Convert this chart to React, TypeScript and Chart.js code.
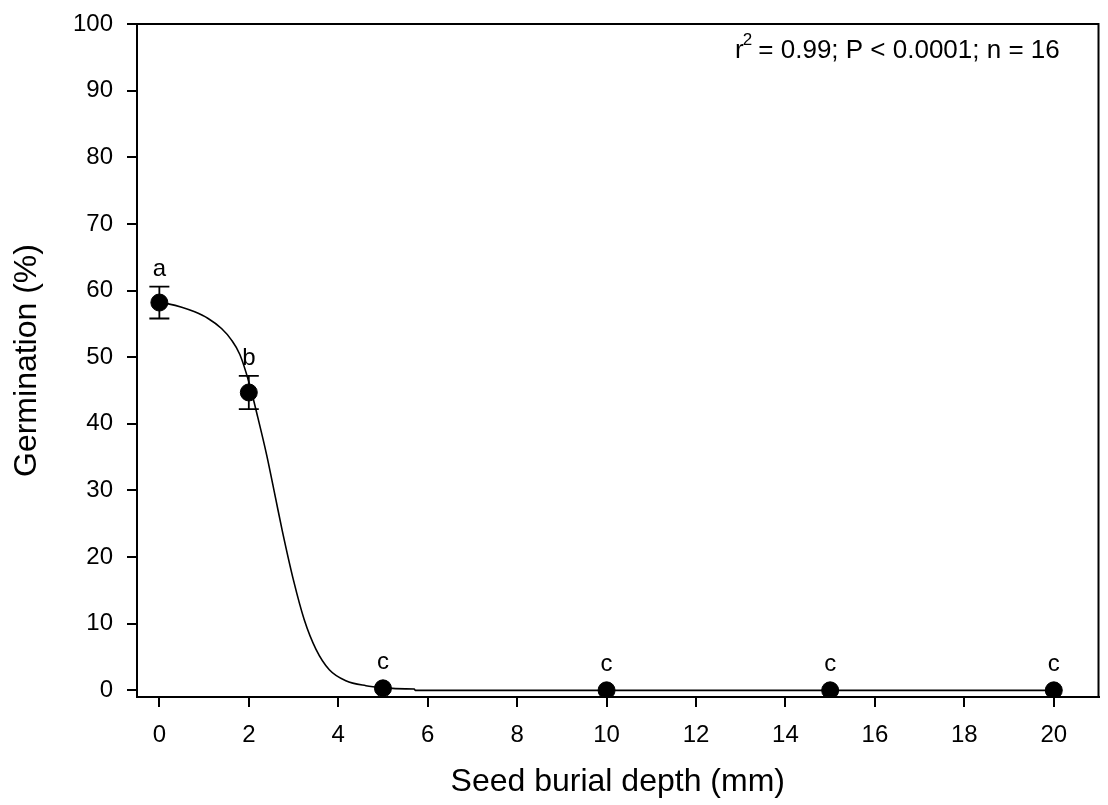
import React, { useEffect, useRef } from "react";
import { Chart, registerables } from "chart.js";

Chart.register(...registerables);

// ---- Data ----
const depths = [0, 2, 5, 10, 15, 20];
const germination = [58.2, 44.7, 0.3, 0, 0, 0];
const stdErr = [2.4, 2.5, 0, 0, 0, 0];
const groupLetters = ["a", "b", "c", "c", "c", "c"];

// fitted curve
const curveX = [0, 0.2, 0.5, 0.79, 1.09, 1.39, 1.61, 1.8, 2.0, 2.2, 2.4, 2.6, 2.75, 3.0, 3.24, 3.5, 3.8, 4.17, 4.62, 5.0, 5.5, 5.7, 5.72, 20];
const curveY = [58.2, 58.0, 57.5, 56.8, 55.8, 54.3, 52.6, 50.4, 46.3, 41.0, 35.3, 28.8, 23.9, 16.5, 10.6, 6.2, 3.1, 1.45, 0.7, 0.4, 0.22, 0.2, 0.0, 0.0];

const xTickValues = [0, 2, 4, 6, 8, 10, 12, 14, 16, 18, 20];
const yTickValues = [0, 10, 20, 30, 40, 50, 60, 70, 80, 90, 100];

const statsBase = "r";
const statsSup = "2";
const statsRest = " = 0.99; P < 0.0001; n = 16";

const xTitle = "Seed burial depth (mm)";
const yTitle = "Germination (%)";

const FONT = "'Liberation Sans', Arial, Helvetica, sans-serif";

const annotationsPlugin = {
  id: "annotations",
  beforeDatasetsDraw(chart: any) {
    const { ctx, scales } = chart;
    const xs = scales.x;
    const ys = scales.y;
    ctx.save();
    ctx.strokeStyle = "#000";
    ctx.lineWidth = 1.8;
    depths.forEach((d, i) => {
      const se = stdErr[i];
      if (!se) return;
      const px = xs.getPixelForValue(d);
      const top = ys.getPixelForValue(germination[i] + se);
      const bot = ys.getPixelForValue(germination[i] - se);
      ctx.beginPath();
      ctx.moveTo(px, top);
      ctx.lineTo(px, bot);
      ctx.moveTo(px - 10, top);
      ctx.lineTo(px + 10, top);
      ctx.moveTo(px - 10, bot);
      ctx.lineTo(px + 10, bot);
      ctx.stroke();
    });
    ctx.restore();
  },
  afterDatasetsDraw(chart: any) {
    const { ctx, scales, chartArea } = chart;
    const xs = scales.x;
    const ys = scales.y;
    ctx.save();
    // frame
    ctx.strokeStyle = "#000";
    ctx.lineWidth = 2;
    ctx.strokeRect(chartArea.left, chartArea.top, chartArea.right - chartArea.left, chartArea.bottom - chartArea.top);
    // letters
    ctx.fillStyle = "#000";
    ctx.font = `24px ${FONT}`;
    ctx.textAlign = "center";
    ctx.textBaseline = "alphabetic";
    depths.forEach((d, i) => {
      const px = xs.getPixelForValue(d);
      const se = stdErr[i];
      const topPx = se ? ys.getPixelForValue(germination[i] + se) : ys.getPixelForValue(germination[i]) - 8;
      ctx.fillText(groupLetters[i], px, topPx - 11);
    });
    // stats text
    ctx.textAlign = "left";
    ctx.font = `26px ${FONT}`;
    const x0 = 735;
    const base = 58;
    ctx.fillText(statsBase, x0, base);
    const w1 = ctx.measureText(statsBase).width;
    ctx.font = `17px ${FONT}`;
    ctx.fillText(statsSup, x0 + w1 - 1, base - 13);
    const w2 = ctx.measureText(statsSup).width;
    ctx.font = `26px ${FONT}`;
    ctx.fillText(statsRest, x0 + w1 + w2 - 2, base);
    ctx.restore();
  },
};

export default function App() {
  const ref = useRef<HTMLCanvasElement>(null);

  useEffect(() => {
    if (!ref.current) return;
    const chart = new Chart(ref.current, {
      type: "scatter",
      data: {
        datasets: [
          {
            label: "fit",
            data: curveX.map((x, i) => ({ x, y: curveY[i] })),
            showLine: true,
            borderColor: "#000",
            borderWidth: 1.6,
            pointRadius: 0,
            cubicInterpolationMode: "monotone",
            order: 2,
          } as any,
          {
            label: "observed",
            data: depths.map((x, i) => ({ x, y: germination[i] })),
            showLine: false,
            pointRadius: 8.5,
            pointBackgroundColor: "#000",
            pointBorderColor: "#000",
            order: 1,
          },
        ],
      },
      options: {
        responsive: false,
        animation: false,
        layout: { padding: { top: 24, right: 6, left: 0, bottom: 0 } },
        plugins: {
          legend: { display: false },
          tooltip: { enabled: false },
        },
        scales: {
          x: {
            type: "linear",
            min: -0.5,
            max: 21,
            afterBuildTicks: (s: any) => {
              s.ticks = xTickValues.map((v) => ({ value: v }));
            },
            afterFit: (s: any) => {
              s.height = 108;
              s.paddingLeft = 0;
              s.paddingRight = 0;
            },
            grid: { drawOnChartArea: false, drawTicks: true, tickLength: 10, color: "#000", lineWidth: 2 },
            border: { display: true, color: "#000", width: 2 },
            ticks: {
              color: "#000",
              padding: 14,
              maxRotation: 0,
              font: { family: FONT, size: 24 },
              callback: (v: any) => String(v),
            },
            title: {
              display: true,
              text: xTitle,
              color: "#000",
              font: { family: FONT, size: 32 },
              padding: { top: 0, bottom: 4 },
            },
          },
          y: {
            type: "linear",
            min: -1,
            max: 100,
            afterBuildTicks: (s: any) => {
              s.ticks = yTickValues.map((v) => ({ value: v }));
            },
            afterFit: (s: any) => {
              s.width = 137;
              s.paddingTop = 0;
              s.paddingBottom = 0;
            },
            grid: { drawOnChartArea: false, drawTicks: true, tickLength: 10, color: "#000", lineWidth: 2 },
            border: { display: true, color: "#000", width: 2 },
            ticks: {
              color: "#000",
              padding: 14,
              font: { family: FONT, size: 24 },
              callback: (v: any) => String(v),
            },
            title: {
              display: true,
              text: yTitle,
              color: "#000",
              font: { family: FONT, size: 32 },
              padding: { top: 8, bottom: 0 },
            },
          },
        },
      },
      plugins: [annotationsPlugin],
    });
    return () => chart.destroy();
  }, []);

  return (
    <div style={{ position: "fixed", left: 0, top: 0, width: 1108, height: 805, background: "#fff" }}>
      <canvas ref={ref} width={1108} height={805} style={{ display: "block" }} />
    </div>
  );
}
